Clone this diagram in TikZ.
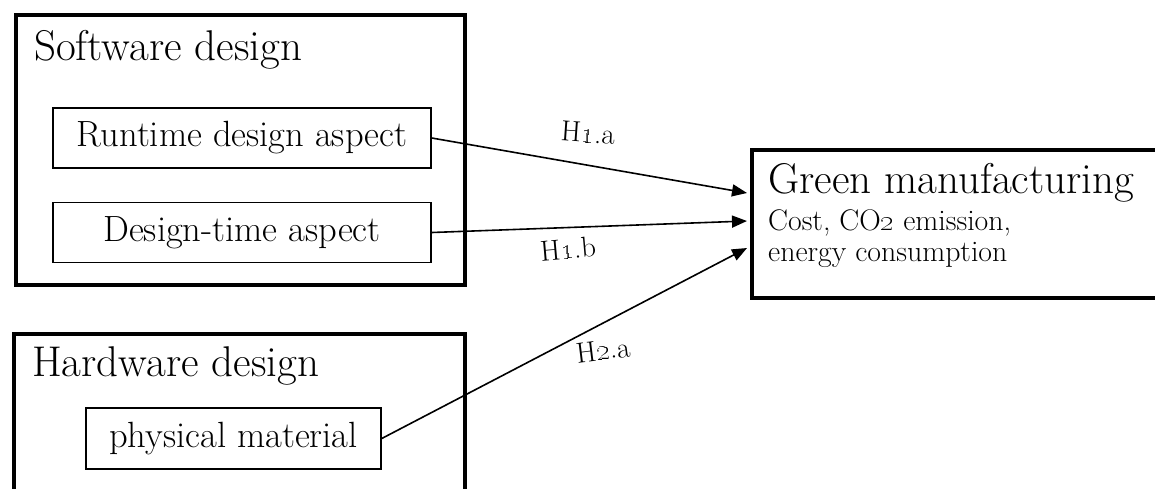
\documentclass[tikz,border=0pt]{standalone}
\usetikzlibrary{arrows.meta}
\tikzset{
  outerbox/.style={draw, line width=4pt, rectangle, inner sep=0pt, anchor=north west},
  innerbox/.style={draw, line width=1.5pt, rectangle, inner sep=0pt, font=\fontsize{36.5}{42}\selectfont},
  titletxt/.style={anchor=base west, inner sep=0pt, font=\fontsize{43}{49}\selectfont},
  smalltxt/.style={anchor=base west, inner sep=0pt, font=\fontsize{29.8}{34}\selectfont},
  hlabel/.style={inner sep=0pt, font=\fontsize{29}{33}\selectfont},
  link/.style={line width=1.6pt, -{Triangle[length=15pt,width=12pt]}},
}
\begin{document}
\begin{tikzpicture}[x=1pt,y=-1pt]
\clip (0,0) rectangle (1155,488);
\fill[white] (0,0) rectangle (1155,488);

% Software design group
\node[outerbox, minimum width=449pt, minimum height=270pt] (sw) at (13.5,13) {};
\node[titletxt] (swt) at (34,60) {Software design};
\node[innerbox, minimum width=378pt, minimum height=60pt] (rt) at (242,138) {Runtime design aspect};
\node[innerbox, minimum width=378pt, minimum height=60pt] (dt) at (242,232.5) {Design-time aspect};

% Hardware design group
\node[outerbox, minimum width=451pt, minimum height=220pt] (hw) at (12,332) {};
\node[titletxt] (hwt) at (32,376) {Hardware design};
\node[innerbox, minimum width=295pt, minimum height=61pt] (pm) at (233.5,438.5) {physical material};

% Green manufacturing
\node[outerbox, minimum width=470pt, minimum height=148pt] (gm) at (749.5,148) {};
\node[titletxt] (gmt) at (768,193) {Green manufacturing};
\node[smalltxt] (gs1) at (768,230) {Cost, CO\oldstylenums{2} emission,};
\node[smalltxt] (gs2) at (768,261) {energy consumption};

% arrow end points on the left side of the green box
\coordinate (g1) at (747,193);
\coordinate (g2) at (747,221);
\coordinate (g3) at (747,248);

\draw[link] (rt.east) -- (g1);
\draw[link] (dt.east) -- (g2);
\draw[link] (pm.east) -- (g3);

% hypothesis labels
\node[hlabel, rotate=-4] (h1a) at (588,133) {H\oldstylenums{1}.a};
\node[hlabel, rotate=5] (h1b) at (568,249) {H\oldstylenums{1}.b};
\node[hlabel, rotate=7] (h2a) at (603,350) {H\oldstylenums{2}.a};
\end{tikzpicture}
\end{document}
